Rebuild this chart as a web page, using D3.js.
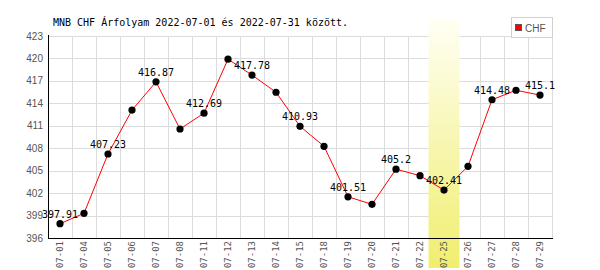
<!DOCTYPE html>
<html>
<head>
<meta charset="utf-8">
<script src="https://cdn.jsdelivr.net/npm/d3@7"></script>
<style>
  body { margin: 0; background: #fff; }
  svg { display: block; }
</style>
</head>
<body>
<svg id="chart" width="600" height="270"></svg>
<script>
// Chart data
var dates = ["07-01", "07-04", "07-05", "07-06", "07-07", "07-08", "07-11", "07-12", "07-13", "07-14", "07-15",
             "07-18", "07-19", "07-20", "07-21", "07-22", "07-25", "07-26", "07-27", "07-28", "07-29"];
var rates = [397.91, 399.3, 407.23, 413.1, 416.87, 410.57, 412.69, 419.9, 417.78, 415.48, 410.93,
             408.26, 401.51, 400.5, 405.2, 404.33, 402.41, 405.58, 414.48, 415.75, 415.1];
var yTicks = [396, 399, 402, 405, 408, 411, 414, 417, 420, 423];
var highlightDate = "07-25";
var seriesName = "CHF";
var title = "MNB CHF Árfolyam 2022-07-01 és 2022-07-31 között.";

// Plot area (window.top is reserved, so no bare "top")
var plotLeft = 48, plotRight = 552, plotTop = 36, plotBottom = 238;
var mono = "'DejaVu Sans Mono', monospace";

var svg = d3.select("#chart");

var x = d3.scaleBand()
    .domain(dates)
    .range([plotLeft, plotRight]);

var y = d3.scaleLinear()
    .domain([396, 423])
    .range([plotBottom, plotTop]);

// Grid
svg.append("g")
    .selectAll("line")
    .data(yTicks)
    .enter()
    .append("line")
    .attr("x1", plotLeft)
    .attr("x2", plotRight)
    .attr("y1", function(d) { return Math.round(y(d)) + 0.5; })
    .attr("y2", function(d) { return Math.round(y(d)) + 0.5; })
    .attr("stroke", "#dcdcdc");

svg.append("g")
    .selectAll("line")
    .data(dates)
    .enter()
    .append("line")
    .attr("x1", function(d) { return x(d) + x.bandwidth() + 0.5; })
    .attr("x2", function(d) { return x(d) + x.bandwidth() + 0.5; })
    .attr("y1", plotTop)
    .attr("y2", plotBottom)
    .attr("stroke", "#dcdcdc");

// Highlighted day
var grad = svg.append("defs")
    .append("linearGradient")
    .attr("id", "hl")
    .attr("x1", 0).attr("y1", 0)
    .attr("x2", 0).attr("y2", 1);
grad.append("stop").attr("offset", "0%").attr("stop-color", "#fffff4");
grad.append("stop").attr("offset", "100%").attr("stop-color", "#f0ee6e");

var hx = x(highlightDate) + x.bandwidth() / 2;
svg.append("rect")
    .attr("x", hx - 15.5)
    .attr("y", 20)
    .attr("width", 31)
    .attr("height", 248)
    .attr("fill", "url(#hl)");

// Axes lines
svg.append("line")
    .attr("x1", plotLeft + 0.5).attr("x2", plotLeft + 0.5)
    .attr("y1", plotTop - 1).attr("y2", plotBottom + 1)
    .attr("stroke", "#000");
svg.append("line")
    .attr("x1", plotLeft).attr("x2", plotRight + 1)
    .attr("y1", plotBottom + 0.5).attr("y2", plotBottom + 0.5)
    .attr("stroke", "#000");

// Y tick labels
svg.append("g")
    .selectAll("text")
    .data(yTicks)
    .enter()
    .append("text")
    .attr("x", 43)
    .attr("y", function(d) { return y(d); })
    .attr("dy", "0.36em")
    .attr("text-anchor", "end")
    .attr("font-family", "'Liberation Sans', Arial, sans-serif")
    .attr("font-size", "10px")
    .attr("fill", "#555")
    .text(function(d) { return d; });

// X tick labels
svg.append("g")
    .selectAll("text")
    .data(dates)
    .enter()
    .append("text")
    .attr("transform", function(d) {
        return "translate(" + (x(d) + x.bandwidth() / 2) + "," + 241 + ") rotate(-90)";
    })
    .attr("dy", "0.35em")
    .attr("text-anchor", "end")
    .attr("font-family", mono)
    .attr("font-size", "9px")
    .attr("fill", "#555")
    .text(function(d) { return d; });

// Line and points
var line = d3.line()
    .x(function(d, i) { return x(dates[i]) + x.bandwidth() / 2; })
    .y(function(d) { return y(d); });

svg.append("path")
    .datum(rates)
    .attr("d", line)
    .attr("fill", "none")
    .attr("stroke", "#ff0000")
    .attr("stroke-width", 1);

svg.append("g")
    .selectAll("circle")
    .data(rates)
    .enter()
    .append("circle")
    .attr("cx", function(d, i) { return x(dates[i]) + x.bandwidth() / 2; })
    .attr("cy", function(d) { return y(d); })
    .attr("r", 3.6)
    .attr("fill", "#000");

// Value labels on every other point
var labelIdx = d3.range(0, rates.length, 2);
svg.append("g")
    .selectAll("text")
    .data(labelIdx)
    .enter()
    .append("text")
    .attr("x", function(i) { return x(dates[i]) + x.bandwidth() / 2; })
    .attr("y", function(i) { return y(rates[i]) - 6; })
    .attr("text-anchor", "middle")
    .attr("font-family", mono)
    .attr("font-size", "10px")
    .attr("fill", "#000")
    .text(function(i) { return rates[i]; });

// Title
svg.append("text")
    .attr("x", 53)
    .attr("y", 26)
    .attr("font-family", mono)
    .attr("font-size", "10px")
    .attr("fill", "#000")
    .text(title);

// Legend
var legend = svg.append("g");
legend.append("rect")
    .attr("x", 511.5).attr("y", 17.5)
    .attr("width", 41).attr("height", 20)
    .attr("fill", "#fff")
    .attr("stroke", "#d0d0d0");
legend.append("rect")
    .attr("x", 515.5).attr("y", 24.5)
    .attr("width", 6).attr("height", 6)
    .attr("fill", "#ff0000")
    .attr("stroke", "#555");
legend.append("text")
    .attr("x", 525)
    .attr("y", 31.5)
    .attr("font-family", "'Liberation Sans', Arial, sans-serif")
    .attr("font-size", "10px")
    .attr("fill", "#555")
    .text(seriesName);
</script>
</body>
</html>
